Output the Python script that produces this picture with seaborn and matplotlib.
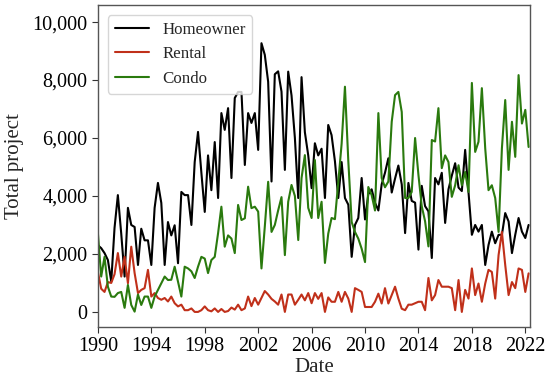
import pandas as pd
import matplotlib.pyplot as plt
import matplotlib.dates as mdates
import matplotlib.ticker as mticker
import seaborn as sns

sns.set_style("ticks")
plt.rcParams["font.family"] = ["Liberation Serif", "DejaVu Serif"]

# Quarterly observations, 1990 Q1 .. 2022 Q2
dates = pd.date_range("1990-01-01", periods=130, freq="QS")
tick_years = list(range(1990, 2023, 4))

homeowner = [
    2300, 2200, 2030, 1790,  1050, 2900, 4030, 2700,  1220, 3590, 3000, 2930,
    1620, 2870, 2470, 2470,  1620, 3590, 4450, 3760,  1620, 3100, 2640, 2990,
    1680, 4140, 4030, 4030,  3000, 5170, 6210, 4800,  3450, 5400, 4200, 5860,
    3930, 6860, 6280, 7030,  4620, 7380, 7590, 7590,  5070, 6860, 6520, 6860,
    5590, 9270, 8870, 7940,  4500, 8200, 8300, 7600,  4900, 8290, 7470, 6000,
    3930, 8100, 6200, 5400,  4270, 5820, 5400, 5630,  3930, 6450, 6100, 5200,
    3930, 5170, 3930, 3700,  1900, 3000, 3240, 4620,  3190, 4060, 4230, 3770,
    3500, 4400, 4800, 5300,  4120, 4600, 5050, 4400,  2720, 4450, 3830, 3770,
    2150, 4350, 3650, 3470,  1860, 4620, 4400, 4800,  3070, 4230, 4700, 5130,
    4290, 4170, 5590, 4120,  2660, 3000, 2770, 3000,  1620, 2310, 2770, 2370,
    2660, 2660, 3410, 3120,  2030, 2660, 3240, 2770,  2550, 3000,
]

rental = [
    1380, 800, 690, 1030,  1000, 1300, 2030, 1220,  1900, 990, 2250, 1340,
    650, 760, 820, 1450,  530, 650, 480, 420,  480, 360, 530, 300,
    190, 250, 60, 60,  120, 0, 0, 60,  190, 60, 20, 120,
    0, 100, 0, 30,  150, 80, 250, 60,  120, 530, 200, 480,
    250, 480, 720, 600,  450, 360, 250, 600,  0, 600, 600, 250,
    420, 600, 400, 650,  300, 650, 450, 650,  0, 500, 350, 350,
    690, 350, 690, 460,  0, 820, 760, 690,  170, 170, 170, 350,
    630, 290, 820, 290,  580, 870, 460, 110,  60, 250, 250, 300,
    350, 350, 60, 1170,  400, 580, 1100, 870,  870, 870, 820, 60,
    1100, 0, 760, 460,  1500, 580, 980, 350,  980, 1450, 1380, 460,
    1960, 2760, 1620, 580,  1030, 820, 1500, 1450,  690, 1330,
]

condo = [
    2720, 1220, 1900, 870,  530, 520, 650, 690,  140, 930, 240, 10,
    600, 240, 530, 530,  140, 530, 760, 990,  1220, 1100, 1110, 1560,
    1050, 530, 1560, 1500,  1400, 1170, 1560, 1900,  1840, 1340, 1790, 1900,
    2720, 3630, 2250, 2640,  2530, 2030, 3690, 3170,  3230, 4320, 3580, 3630,
    3460, 1500, 2940, 4490,  2760, 3000, 3500, 3960,  1960, 3800, 4380, 4000,
    2480, 4620, 5410, 3590,  3240, 5240, 3240, 3800,  1690, 2700, 3240, 3200,
    4480, 5800, 7770, 5200,  3100, 2760, 2530, 2180,  1720, 4310, 4030, 3500,
    6860, 4620, 4300, 4500,  6560, 7480, 7590, 6900,  3930, 3930, 4140, 6000,
    4720, 3650, 3130, 2260,  5930, 5880, 7030, 4960,  5400, 5170, 3970, 4370,
    5060, 4370, 4830, 4140,  7900, 5520, 5870, 7720,  5640, 4200, 4370, 3930,
    2760, 5640, 7310, 4900,  6560, 5350, 8170, 6500,  6970, 5690,
]

fig, ax = plt.subplots(figsize=(5.5, 3.82), dpi=100)
fig.subplots_adjust(left=0.178, right=0.964, top=0.987, bottom=0.144)

sns.lineplot(x=dates, y=homeowner, color="black", linewidth=1.5, label="Homeowner", ax=ax)
sns.lineplot(x=dates, y=rental, color="#c0301a", linewidth=1.5, label="Rental", ax=ax)
sns.lineplot(x=dates, y=condo, color="#2a7a0e", linewidth=1.5, label="Condo", ax=ax)

ax.set_xlim(pd.Timestamp("1990-01-01"), pd.Timestamp("2022-05-15"))
ax.set_ylim(-520, 10590)
ax.set_xticks([pd.Timestamp(f"{y}-01-01") for y in tick_years])
ax.xaxis.set_major_formatter(mdates.DateFormatter("%Y"))
ax.yaxis.set_major_locator(mticker.MultipleLocator(2000))
ax.yaxis.set_major_formatter(mticker.StrMethodFormatter("{x:,.0f}"))
ax.tick_params(labelsize=14.5, length=4, colors="#333333", labelcolor="black")

for s in ax.spines.values():
    s.set_color("#555555")
    s.set_linewidth(1.0)

ax.set_xlabel("Date", fontsize=15, labelpad=1)
ax.set_ylabel("Total project", fontsize=15, labelpad=6)

ax.legend(loc="upper left", fontsize=12.2, frameon=True, borderaxespad=0.6)

fig.savefig("out.png", dpi=100)
